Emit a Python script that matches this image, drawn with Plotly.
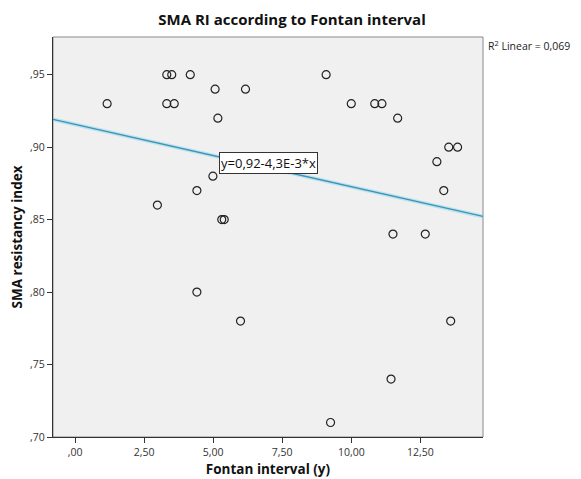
import plotly.graph_objects as go

# Data
fontan_interval = [3.32, 3.50, 4.17, 9.09,
                   5.07, 6.17,
                   1.16, 3.32, 3.59, 10.00, 10.85, 11.11,
                   5.17, 11.68,
                   13.53, 13.85,
                   13.10,
                   4.99,
                   4.41, 13.35,
                   2.98,
                   5.31, 5.40,
                   11.51, 12.68,
                   4.41,
                   5.99, 13.60,
                   11.44,
                   9.25]
sma_ri = [0.95, 0.95, 0.95, 0.95,
          0.94, 0.94,
          0.93, 0.93, 0.93, 0.93, 0.93, 0.93,
          0.92, 0.92,
          0.90, 0.90,
          0.89,
          0.88,
          0.87, 0.87,
          0.86,
          0.85, 0.85,
          0.84, 0.84,
          0.80,
          0.78, 0.78,
          0.74,
          0.71]

fit_intercept = 0.9157
fit_slope = -0.0043

x_range = [-0.8, 14.77]
y_range = [0.70, 0.976]

x_tickvals = [0, 2.5, 5, 7.5, 10, 12.5]
x_ticktext = [",00", "2,50", "5,00", "7,50", "10,00", "12,50"]
y_tickvals = [0.70, 0.75, 0.80, 0.85, 0.90, 0.95]
y_ticktext = [",70", ",75", ",80", ",85", ",90", ",95"]

line_x = x_range
line_y = [fit_intercept + fit_slope * v for v in line_x]

FONT = "Open Sans"
W, H = 573, 471  # page body has an 8px margin

fig = go.Figure()
fig.add_trace(go.Scatter(x=line_x, y=line_y, mode="lines",
                         line=dict(color="rgba(150,215,235,0.55)", width=4),
                         hoverinfo="skip", showlegend=False))
fig.add_trace(go.Scatter(x=line_x, y=line_y, mode="lines",
                         line=dict(color="#3a93b8", width=1.3),
                         showlegend=False))
fig.add_trace(go.Scatter(x=fontan_interval, y=sma_ri, mode="markers",
                         marker=dict(symbol="circle-open", size=8,
                                     color="#222222", line=dict(width=1.2)),
                         showlegend=False))

fig.update_layout(
    width=W, height=H,
    margin=dict(l=45, r=98, t=29, b=42),
    paper_bgcolor="white",
    plot_bgcolor="#f0f0f0",
    font=dict(family=FONT, color="#222222"),
    title=dict(text="<b>SMA RI according to Fontan interval</b>",
               x=284 / W, xref="container", xanchor="center",
               y=1 - 12 / H, yref="container", yanchor="middle",
               font=dict(size=15, family=FONT, color="#111111")),
    xaxis=dict(range=x_range, tickvals=x_tickvals, ticktext=x_ticktext,
               showgrid=False, zeroline=False, automargin=False,
               showline=True, linecolor="#333333", linewidth=1.2, mirror=False,
               ticks="outside", ticklen=5, tickcolor="#333333",
               tickfont=dict(size=10.5, color="#333333"),
               title=dict(text="<b>Fontan interval (y)</b>",
                          font=dict(size=13.5, color="#111111"), standoff=6)),
    yaxis=dict(range=y_range, tickvals=y_tickvals, ticktext=y_ticktext,
               showgrid=False, zeroline=False, automargin=False,
               showline=True, linecolor="#333333", linewidth=1.2, mirror=False,
               ticks="outside", ticklen=5, tickcolor="#333333",
               tickfont=dict(size=10.5, color="#333333"),
               title=dict(text="<b>SMA resistancy index</b>",
                          font=dict(size=13.5, color="#111111"), standoff=6)),
    shapes=[dict(type="rect", xref="paper", yref="paper", x0=0, x1=1, y0=0, y1=1,
                 line=dict(color="#8a8a8a", width=1), fillcolor="rgba(0,0,0,0)",
                 layer="below")],
    annotations=[
        dict(text="y=0,92-4,3E-3*x", xref="paper", yref="paper",
             x=0.5, y=0.685, xanchor="center", yanchor="middle", showarrow=False,
             font=dict(size=13, color="#111111"),
             bgcolor="white", bordercolor="#333333", borderwidth=1, borderpad=1),
        dict(text="R<sup>2</sup> Linear = 0,069", xref="paper", yref="paper",
             x=1.006, y=0.98, xanchor="left", yanchor="middle", showarrow=False,
             font=dict(size=10.5, color="#222222")),
    ],
)

fig.write_html("out.html")
